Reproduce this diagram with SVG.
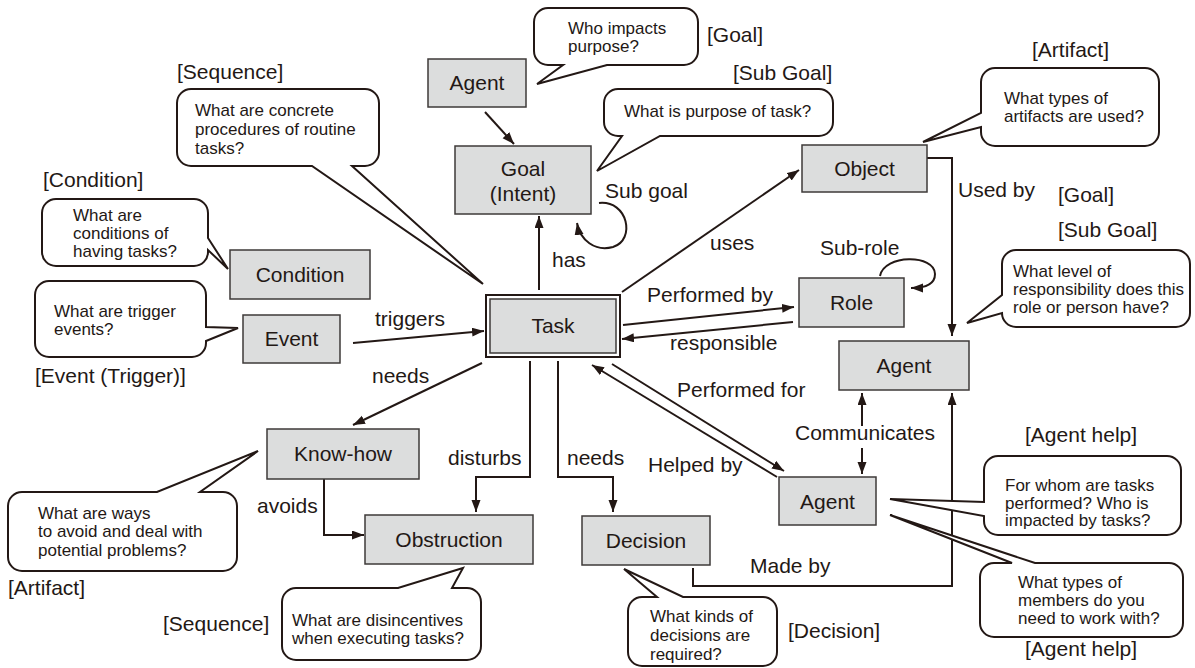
<svg xmlns="http://www.w3.org/2000/svg" width="1195" height="668" viewBox="0 0 1195 668">
<defs>
<marker id="ah" markerUnits="userSpaceOnUse" markerWidth="13" markerHeight="10" refX="12" refY="4.5" orient="auto">
<path d="M0,0 L12,4.5 L0,9 z" fill="#231815"/>
</marker>
<style>
.box{fill:#dcdddd;stroke:#3e3a39;stroke-width:1.5}
.nl{font-family:"Liberation Sans",Arial,sans-serif;font-size:21px;fill:#231815;text-anchor:middle}
.cl{font-family:"Liberation Sans",Arial,sans-serif;font-size:21px;fill:#231815}
.bl{font-family:"Liberation Sans",Arial,sans-serif;font-size:21px;fill:#231815}
.ct{font-family:"Liberation Sans",Arial,sans-serif;font-size:17px;fill:#231815}
.co{fill:#fff;stroke:#231815;stroke-width:2;stroke-linejoin:miter}
.ln{fill:none;stroke:#231815;stroke-width:2}
.ar{fill:none;stroke:#231815;stroke-width:2;marker-end:url(#ah)}
</style>
</defs>
<rect width="1195" height="668" fill="#fff"/>

<g id="connectors">
<path class="ar" d="M485,112 L514,144"/>
<path class="ar" d="M539,290 V216"/>
<path class="ar" d="M599,203 C628,200 636,240 613,247 C595,252 580,240 577,223"/>
<path class="ar" d="M622,292 L799,170"/>
<path class="ar" d="M623,325 L794,307"/>
<path class="ar" d="M793,322 L622,339"/>
<path class="ar" d="M880,276 C884,254 935,254 935,274 C935,284 926,288 911,288"/>
<path class="ar" d="M927,158 H952 V336"/>
<path class="ar" d="M353,343 L484,331"/>
<path class="ar" d="M482,363 L353,425"/>
<path class="ar" d="M530,361 V477 H476 V512"/>
<path class="ar" d="M558,361 V477 H613 V512"/>
<path class="ar" d="M324,479 V535 H364"/>
<path class="ar" d="M612,364 L784,471"/>
<path class="ar" d="M777,477 L592,365"/>
<path class="ar" d="M862,426 V393"/>
<path class="ar" d="M862,448 V474"/>
<path class="ar" d="M693,568 V586 H952 V393"/>
<text class="cl" x="552" y="267">has</text>
<text class="cl" x="605" y="198">Sub goal</text>
<text class="cl" x="710" y="250">uses</text>
<text class="cl" x="647" y="302">Performed by</text>
<text class="cl" x="670" y="350">responsible</text>
<text class="cl" x="820" y="255">Sub-role</text>
<text class="cl" x="958" y="197">Used by</text>
<text class="cl" x="375" y="326">triggers</text>
<text class="cl" x="372" y="383">needs</text>
<text class="cl" x="448" y="465">disturbs</text>
<text class="cl" x="567" y="465">needs</text>
<text class="cl" x="257" y="513">avoids</text>
<text class="cl" x="677" y="397">Performed for</text>
<text class="cl" x="648" y="472">Helped by</text>
<text class="cl" x="795" y="440">Communicates</text>
<text class="cl" x="750" y="573">Made by</text>
</g>

<g id="node-agent-top"><rect class="box" x="428" y="59" width="98" height="48"/><text class="nl" x="477" y="90">Agent</text></g>
<g id="node-goal"><rect class="box" x="455" y="146" width="136" height="68"/><text class="nl" x="523" y="176">Goal</text><text class="nl" x="523" y="201">(Intent)</text></g>
<g id="node-object"><rect class="box" x="802" y="145" width="125" height="47"/><text class="nl" x="864.5" y="176">Object</text></g>
<g id="node-condition"><rect class="box" x="230" y="250" width="140" height="49"/><text class="nl" x="300" y="282">Condition</text></g>
<g id="node-event"><rect class="box" x="243" y="315" width="97" height="48"/><text class="nl" x="291.5" y="346">Event</text></g>
<g id="node-task"><rect x="486" y="295" width="134" height="62" fill="#fff" stroke="#231815" stroke-width="2"/><rect class="box" x="490" y="299" width="126" height="54"/><text class="nl" x="553" y="333">Task</text></g>
<g id="node-role"><rect class="box" x="799" y="278" width="105" height="49"/><text class="nl" x="851.5" y="310">Role</text></g>
<g id="node-agent-right"><rect class="box" x="839" y="341" width="130" height="49"/><text class="nl" x="904" y="373">Agent</text></g>
<g id="node-agent-bottom"><rect class="box" x="779" y="477" width="97" height="48"/><text class="nl" x="827.5" y="509">Agent</text></g>
<g id="node-knowhow"><rect class="box" x="267" y="429" width="152" height="50"/><text class="nl" x="343" y="461">Know-how</text></g>
<g id="node-obstruction"><rect class="box" x="365" y="515" width="168" height="49"/><text class="nl" x="449" y="547">Obstruction</text></g>
<g id="node-decision"><rect class="box" x="582" y="516" width="128" height="49"/><text class="nl" x="646" y="548">Decision</text></g>

<g id="callout-who-impacts">
<path class="co" d="M548,8 H684 A14,14 0 0 1 698,22 V51 A14,14 0 0 1 684,65 H607 L537,84 L563,65 H548 A14,14 0 0 1 534,51 V22 A14,14 0 0 1 548,8 Z"/>
<text class="ct" x="568" y="34">Who impacts</text><text class="ct" x="568" y="52">purpose?</text>
<text class="bl" x="707" y="42">[Goal]</text>
</g>
<g id="callout-sequence">
<path class="co" d="M191,89 H365 A14,14 0 0 1 379,103 V152 A14,14 0 0 1 365,166 H352 L483,284 L312,166 H191 A14,14 0 0 1 177,152 V103 A14,14 0 0 1 191,89 Z"/>
<text class="ct" x="195" y="116">What are concrete</text><text class="ct" x="195" y="135">procedures of routine</text><text class="ct" x="195" y="154">tasks?</text>
<text class="bl" x="177" y="79">[Sequence]</text>
</g>
<g id="callout-purpose">
<path class="co" d="M618,89 H819 A14,14 0 0 1 833,103 V122 A14,14 0 0 1 819,136 H660 L597,171 L622,136 H618 A14,14 0 0 1 604,122 V103 A14,14 0 0 1 618,89 Z"/>
<text class="ct" x="624" y="117">What is purpose of task?</text>
<text class="bl" x="733" y="80">[Sub Goal]</text>
</g>
<g id="callout-artifact">
<path class="co" d="M995,68 H1145 A14,14 0 0 1 1159,82 V132 A14,14 0 0 1 1145,146 H995 A14,14 0 0 1 981,132 V127 L923,142 L981,113 V82 A14,14 0 0 1 995,68 Z"/>
<text class="ct" x="1004" y="104">What types of</text><text class="ct" x="1004" y="122">artifacts are used?</text>
<text class="bl" x="1032" y="57">[Artifact]</text>
</g>
<g id="callout-condition">
<path class="co" d="M56,199 H194 A14,14 0 0 1 208,213 V238 L228,269 L208,250 V252 A14,14 0 0 1 194,266 H56 A14,14 0 0 1 42,252 V213 A14,14 0 0 1 56,199 Z"/>
<text class="ct" x="73" y="221">What are</text><text class="ct" x="73" y="239">conditions of</text><text class="ct" x="73" y="257">having tasks?</text>
<text class="bl" x="43" y="187">[Condition]</text>
</g>
<g id="callout-event">
<path class="co" d="M49,281 H192 A14,14 0 0 1 206,295 V327 L238,328 L206,341 V343 A14,14 0 0 1 192,357 H49 A14,14 0 0 1 35,343 V295 A14,14 0 0 1 49,281 Z"/>
<text class="ct" x="54" y="317">What are trigger</text><text class="ct" x="54" y="335">events?</text>
<text class="bl" x="35" y="383">[Event (Trigger)]</text>
</g>
<g id="callout-knowhow">
<path class="co" d="M22,492 H157 L258,451 L200,492 H223 A14,14 0 0 1 237,506 V557 A14,14 0 0 1 223,571 H22 A14,14 0 0 1 8,557 V506 A14,14 0 0 1 22,492 Z"/>
<text class="ct" x="38" y="519">What are ways</text><text class="ct" x="38" y="537">to avoid and deal with</text><text class="ct" x="38" y="556">potential problems?</text>
<text class="bl" x="8" y="595">[Artifact]</text>
</g>
<g id="callout-obstruction">
<path class="co" d="M296,588 H398 L463,568 L452,588 H467 A14,14 0 0 1 481,602 V646 A14,14 0 0 1 467,660 H296 A14,14 0 0 1 282,646 V602 A14,14 0 0 1 296,588 Z"/>
<text class="ct" x="292" y="626">What are disincentives</text><text class="ct" x="292" y="644">when executing tasks?</text>
<text class="bl" x="163" y="631">[Sequence]</text>
</g>
<g id="callout-decision">
<path class="co" d="M642,597 H657 L624,569 L683,597 H763 A14,14 0 0 1 777,611 V652 A14,14 0 0 1 763,666 H642 A14,14 0 0 1 628,652 V611 A14,14 0 0 1 642,597 Z"/>
<text class="ct" x="650" y="622">What kinds of</text><text class="ct" x="650" y="641">decisions are</text><text class="ct" x="650" y="660">required?</text>
<text class="bl" x="788" y="638">[Decision]</text>
</g>
<g id="callout-responsibility">
<path class="co" d="M1016,250 H1176 A14,14 0 0 1 1190,264 V313 A14,14 0 0 1 1176,327 H1016 A14,14 0 0 1 1002,313 L967,323 L1002,295 V264 A14,14 0 0 1 1016,250 Z"/>
<text class="ct" x="1013" y="277">What level of</text><text class="ct" x="1013" y="295">responsibility does this</text><text class="ct" x="1013" y="313">role or person have?</text>
<text class="bl" x="1058" y="202">[Goal]</text>
<text class="bl" x="1058" y="237">[Sub Goal]</text>
</g>
<g id="callout-for-whom">
<path class="co" d="M998,456 H1167 A14,14 0 0 1 1181,470 V521 A14,14 0 0 1 1167,535 H998 A14,14 0 0 1 984,521 V516 L890,499 L984,502 V470 A14,14 0 0 1 998,456 Z"/>
<text class="ct" x="1005" y="491">For whom are tasks</text><text class="ct" x="1005" y="509">performed? Who is</text><text class="ct" x="1005" y="526">impacted by tasks?</text>
<text class="bl" x="1025" y="442">[Agent help]</text>
</g>
<g id="callout-members">
<path class="co" d="M994,563 H1012 L890,515 L1035,563 H1169 A14,14 0 0 1 1183,577 V623 A14,14 0 0 1 1169,637 H994 A14,14 0 0 1 980,623 V577 A14,14 0 0 1 994,563 Z"/>
<text class="ct" x="1018" y="588">What types of</text><text class="ct" x="1018" y="606">members do you</text><text class="ct" x="1018" y="624">need to work with?</text>
<text class="bl" x="1025" y="656">[Agent help]</text>
</g>
</svg>
